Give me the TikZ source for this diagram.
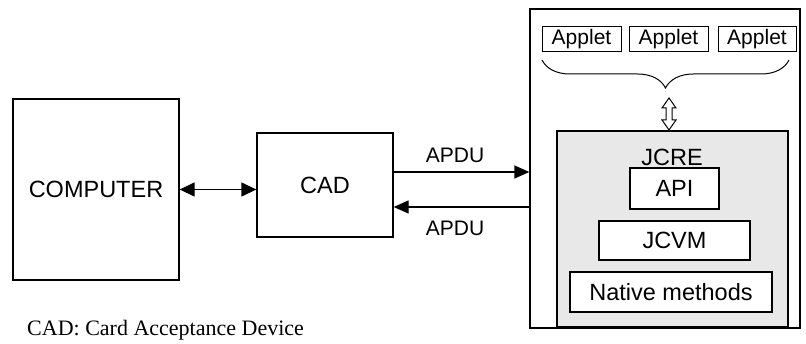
\documentclass[tikz,border=0pt]{standalone}
\usepackage{fontspec}
\setmainfont{Liberation Serif}
\setsansfont{Liberation Sans}
\usetikzlibrary{arrows.meta,decorations.pathreplacing}
\begin{document}
\begin{tikzpicture}[x=1pt,y=-1pt,
  box/.style={draw, line width=1.3pt, inner sep=0pt, font=\sffamily\fontsize{23.5}{24}\selectfont},
  appletbox/.style={draw, line width=1pt, inner sep=0pt, minimum height=25pt, font=\sffamily\fontsize{21}{21}\selectfont},
  lbl/.style={inner sep=0pt, font=\sffamily\fontsize{23.5}{24}\selectfont},
  smalllbl/.style={inner sep=0pt, font=\sffamily\fontsize{21}{21}\selectfont},
  conn/.style={line width=1.3pt, arrows={-Triangle[length=15pt,width=13pt]}},
  biconn/.style={line width=1.3pt, arrows={Triangle[length=15pt,width=14pt]-Triangle[length=15pt,width=14pt]}}]
\useasboundingbox (0,0) rectangle (806,344);
% left side
\node[box, minimum width=166pt, minimum height=181pt] (computer) at (96,189.5) {COMPUTER};
\node[box, minimum width=136pt, minimum height=104pt] (cad) at (325,185) {CAD};
% card
\node[box, minimum width=270pt, minimum height=319pt] (card) at (665,168.5) {};
\node[box, fill=black!9, minimum width=231pt, minimum height=196pt] (jcre) at (672.5,229) {};
\node[lbl] (jcrelbl) at (672,157) {JCRE};
\node[box, fill=white, minimum width=89pt, minimum height=41pt] (api) at (674.5,188.5) {API};
\node[box, fill=white, minimum width=151pt, minimum height=39pt] (jcvm) at (674.5,240.5) {JCVM};
\node[box, fill=white, minimum width=202pt, minimum height=40pt] (native) at (671,292) {Native methods};
% applets
\node[appletbox, minimum width=79pt] (app1) at (581.5,39.5) {Applet};
\node[appletbox, minimum width=79pt] (app2) at (668.5,39.5) {Applet};
\node[appletbox, minimum width=78pt] (app3) at (757,39.5) {Applet};
\coordinate (bl) at (542,60);
\coordinate (br) at (789,60);
\draw[line width=1pt, decorate, decoration={brace, mirror, amplitude=28pt}] (bl) -- (br);
% hollow double arrow between applets and JCRE
\draw[line width=1pt, fill=white, line join=miter]
  (669,98) -- (676,108) -- (672,108) -- (672,120) -- (676,120) -- (669,130)
  -- (662,120) -- (666,120) -- (666,108) -- (662,108) -- cycle;
% connectors
\draw[biconn] (computer.east) -- (cad.west |- computer.east);
\coordinate (ya) at (0,172);
\coordinate (yb) at (0,207);
\draw[conn] (cad.east |- ya) -- (card.west |- ya);
\draw[conn] (card.west |- yb) -- (cad.east |- yb);
\node[smalllbl] (apdu1) at (455,155) {APDU};
\node[smalllbl] (apdu2) at (455,228) {APDU};
% caption
\node[anchor=west, inner sep=0pt, font=\fontsize{22}{22}\selectfont] (caption) at (27,330) {CAD: Card Acceptance Device};
\end{tikzpicture}
\end{document}
